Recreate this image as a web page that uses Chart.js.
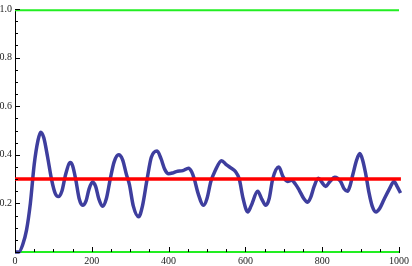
<!DOCTYPE html>
<html>
<head>
<meta charset="utf-8">
<script src="https://cdn.jsdelivr.net/npm/chart.js@4"></script>
<style>
  html, body { margin: 0; padding: 0; background: #fff; }
  #wrap { width: 412px; height: 266px; }
</style>
</head>
<body>
<div id="wrap"><canvas id="c" width="412" height="266"></canvas></div>
<script>
// series
const blueX = [0, 10, 20, 30, 40, 50, 60, 67, 75, 85, 95, 105, 113, 122, 132, 144, 150, 158, 167, 176,
  185, 193, 202, 210, 218, 228, 238, 248, 258, 270, 280, 290, 298, 308, 322, 332, 344, 355, 370, 380,
  390, 400, 410, 420, 437, 452, 460, 467, 477, 491, 500, 510, 520, 538, 550, 563, 574, 584, 594, 606,
  615, 632, 642, 653, 662, 671, 687, 698, 710, 720, 730, 740, 752, 762, 770, 779, 790, 800, 809, 820,
  833, 848, 857, 866, 872, 880, 890, 898, 905, 913, 922, 930, 940, 950, 961, 975, 987, 995, 1004];
const blueY = [0, 0, 0.03, 0.09, 0.2, 0.36, 0.46, 0.493, 0.47, 0.39, 0.30, 0.24, 0.228, 0.25, 0.32, 0.368, 0.355, 0.30, 0.22, 0.192,
  0.21, 0.26, 0.288, 0.27, 0.22, 0.188, 0.22, 0.30, 0.37, 0.40, 0.38, 0.32, 0.277, 0.19, 0.145, 0.19, 0.30, 0.39, 0.416, 0.385,
  0.34, 0.322, 0.325, 0.331, 0.335, 0.345, 0.33, 0.30, 0.24, 0.192, 0.22, 0.29, 0.33, 0.376, 0.36, 0.345, 0.331, 0.30, 0.22, 0.165,
  0.19, 0.25, 0.22, 0.192, 0.22, 0.30, 0.35, 0.31, 0.29, 0.295, 0.28, 0.255, 0.22, 0.205, 0.225, 0.27, 0.304, 0.285, 0.27, 0.29,
  0.308, 0.29, 0.26, 0.25, 0.27, 0.32, 0.38, 0.405, 0.38, 0.324, 0.243, 0.19, 0.165, 0.18, 0.216, 0.26, 0.29, 0.27, 0.243];
const redX = [0, 1005];
const redY = [0.3, 0.3];
const greenX = [0, 1000];
const greenTopY = [0.995, 0.995];
const greenBottomY = [0, 0];

const xTicks = [0, 200, 400, 600, 800, 1000];
const yTicks = [0.2, 0.4, 0.6, 0.8, 1.0];

const pts = (xs, ys) => xs.map((x, i) => ({ x: x, y: ys[i] }));

// Mathematica-style inward ticks, major and minor
const innerTicks = {
  id: "innerTicks",
  afterDraw(chart) {
    const ctx = chart.ctx;
    const xs = chart.scales.x;
    const ys = chart.scales.y;
    const left = chart.chartArea.left;
    const bottom = chart.chartArea.bottom;
    ctx.save();
    ctx.strokeStyle = "#000";
    ctx.lineWidth = 1;
    ctx.beginPath();
    for (let v = 0; v <= 1000; v += 50) {
      const px = Math.round(xs.getPixelForValue(v)) + 0.5;
      const len = v % 200 === 0 ? 5 : 3;
      ctx.moveTo(px, bottom);
      ctx.lineTo(px, bottom - len);
    }
    for (let i = 0; i <= 20; i++) {
      const v = i * 0.05;
      const py = Math.round(ys.getPixelForValue(v)) + 0.5;
      const len = i % 4 === 0 ? 5 : 3;
      ctx.moveTo(left, py);
      ctx.lineTo(left + len, py);
    }
    ctx.stroke();
    ctx.restore();
  },
};

const labelFont = { family: "'Liberation Serif', serif", size: 10 };

new Chart(document.getElementById("c"), {
  type: "line",
  data: {
    datasets: [
      {
        label: "red",
        data: pts(redX, redY),
        borderColor: "#ff0000",
        borderWidth: 3.5,
        clip: false,
      },
      {
        label: "blue",
        data: pts(blueX, blueY),
        borderColor: "rgb(62, 62, 158)",
        borderWidth: 3.5,
        cubicInterpolationMode: "monotone",
        clip: false,
      },
      {
        label: "greenTop",
        data: pts(greenX, greenTopY),
        borderColor: "#22ee22",
        borderWidth: 2,
        clip: false,
      },
      {
        label: "greenBottom",
        data: pts(greenX, greenBottomY),
        borderColor: "#22ee22",
        borderWidth: 2,
        clip: false,
      },
    ],
  },
  options: {
    responsive: false,
    animation: false,
    layout: { padding: { left: 0, right: 12, top: 5, bottom: 0 } },
    elements: { point: { radius: 0 } },
    plugins: { legend: { display: false }, tooltip: { enabled: false } },
    scales: {
      x: {
        type: "linear",
        min: 0,
        max: 1000,
        afterFit: (s) => { s.height = 14; },
        afterBuildTicks: (s) => { s.ticks = xTicks.map((v) => ({ value: v })); },
        grid: { display: false, drawTicks: false },
        border: { display: true, color: "#000", width: 1 },
        ticks: {
          font: labelFont,
          color: "#222",
          padding: 3,
          maxRotation: 0,
          autoSkip: false,
          callback: (v) => String(v),
        },
      },
      y: {
        type: "linear",
        min: 0,
        max: 1,
        afterFit: (s) => { s.width = 15; },
        afterBuildTicks: (s) => { s.ticks = yTicks.map((v) => ({ value: v })); },
        grid: { display: false, drawTicks: false },
        border: { display: true, color: "#000", width: 1 },
        ticks: {
          font: labelFont,
          color: "#222",
          padding: 3,
          autoSkip: false,
          callback: (v) => Number(v).toFixed(1),
        },
      },
    },
  },
  plugins: [innerTicks],
});
</script>
</body>
</html>
